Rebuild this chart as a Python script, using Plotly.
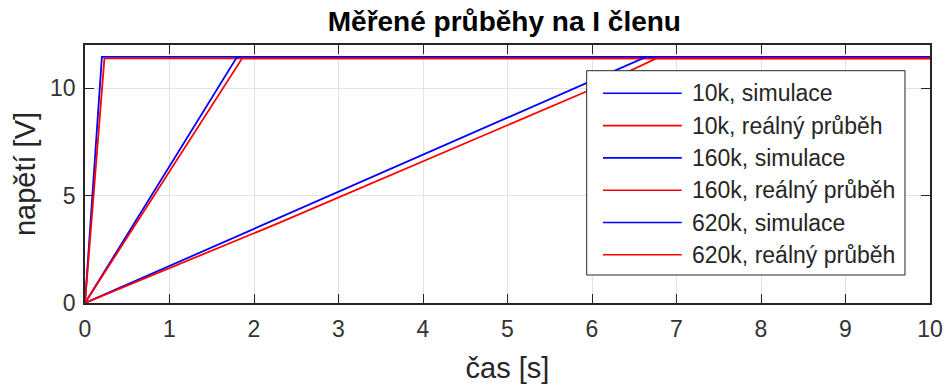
import plotly.graph_objects as go

# Step responses of the integrating element for three resistor values
series_names = [
    "10k, simulace", "10k, reálný průběh",
    "160k, simulace", "160k, reálný průběh",
    "620k, simulace", "620k, reálný průběh",
]
series_colors = ["#0000ff", "#ff0000", "#0000ff", "#ff0000", "#0000ff", "#ff0000"]

t_10k_sim = [0, 0.20, 10]
u_10k_sim = [0, 11.45, 11.45]
t_10k_real = [0, 0.23, 10]
u_10k_real = [0, 11.38, 11.38]

t_160k_sim = [0, 1.80, 10]
u_160k_sim = [0, 11.45, 11.45]
t_160k_real = [0, 1.86, 10]
u_160k_real = [0, 11.38, 11.38]

t_620k_sim = [0, 6.64, 10]
u_620k_sim = [0, 11.45, 11.45]
t_620k_real = [0, 2.31, 5.94, 6.76, 10]
u_620k_real = [0, 3.75, 9.85, 11.38, 11.38]

x_ticks = list(range(0, 11))
y_ticks = [0, 5, 10]

series_t = [t_10k_sim, t_10k_real, t_160k_sim, t_160k_real, t_620k_sim, t_620k_real]
series_u = [u_10k_sim, u_10k_real, u_160k_sim, u_160k_real, u_620k_sim, u_620k_real]

FONT = "Liberation Sans, Arial, sans-serif"
AXIS_GRAY = "#262626"

fig = go.Figure()
for name, color, t, u in zip(series_names, series_colors, series_t, series_u):
    fig.add_trace(go.Scatter(
        x=t, y=u, mode="lines", name=name,
        line=dict(color=color, width=1.8),
        showlegend=False,
    ))

# Boxed legend in the upper right of the axes
box_x0, box_x1 = 0.5937, 0.9704
box_y0, box_y1 = 0.1085, 0.9004
row_top, row_step = 0.8128, 0.1252
line_x0, line_x1, text_x = 0.613, 0.7062, 0.716

shapes = [dict(type="rect", xref="paper", yref="paper",
               x0=box_x0, x1=box_x1, y0=box_y0, y1=box_y1,
               line=dict(color=AXIS_GRAY, width=1), fillcolor="white", layer="above")]
annotations = []
for i, (name, color) in enumerate(zip(series_names, series_colors)):
    yy = row_top - i * row_step
    shapes.append(dict(type="line", xref="paper", yref="paper",
                       x0=line_x0, x1=line_x1, y0=yy, y1=yy,
                       line=dict(color=color, width=1.6), layer="above"))
    annotations.append(dict(xref="paper", yref="paper", x=text_x, y=yy,
                            text=name, showarrow=False, xanchor="left", yanchor="middle",
                            font=dict(family=FONT, size=23, color=AXIS_GRAY)))

axis_common = dict(
    showline=True, linecolor=AXIS_GRAY, linewidth=1.5, mirror="ticks",
    ticks="inside", ticklen=9, tickwidth=1.3, tickcolor=AXIS_GRAY,
    showgrid=True, gridcolor="#e3e3e3", gridwidth=1,
    zeroline=False, automargin=False,
    tickfont=dict(family=FONT, size=23, color="#333333"),
)

fig.update_layout(
    width=948, height=388,
    margin=dict(l=85, r=18, t=45, b=85, autoexpand=False),
    paper_bgcolor="white", plot_bgcolor="white",
    title=dict(text="<b>Měřené průběhy na I členu</b>", x=0.532, xanchor="center",
               y=0.945, yanchor="middle",
               font=dict(family=FONT, size=28, color="black")),
    xaxis=dict(range=[0, 10], tickvals=x_ticks, ticklabelstandoff=5,
               title=dict(text="čas [s]", font=dict(family=FONT, size=29, color=AXIS_GRAY), standoff=16),
               **axis_common),
    yaxis=dict(range=[0, 12], tickvals=y_ticks, ticklabelstandoff=3,
               title=dict(text="napětí [V]", font=dict(family=FONT, size=29, color=AXIS_GRAY), standoff=6),
               **axis_common),
    shapes=shapes,
    annotations=annotations,
    showlegend=False,
)

fig.write_html("out.html")
